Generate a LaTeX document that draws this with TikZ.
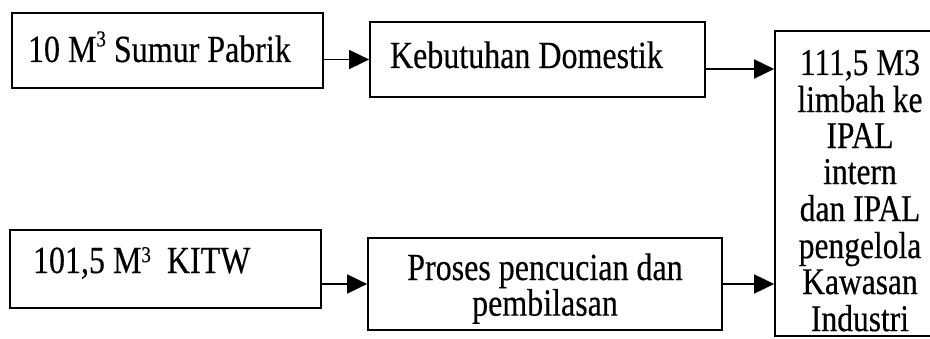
\documentclass[tikz,border=0pt]{standalone}
\usepackage{fontspec}
\setmainfont{Liberation Serif}[FakeBold=0.4]
\usepackage{graphicx}
\usetikzlibrary{arrows.meta}

% text is set a little taller than wide
\newcommand\tallline[1]{\scalebox{1}[1.2]{#1}}
% small raised cube sign
\newcommand\cubed[1]{\raisebox{#1}{\fontsize{19}{19}\selectfont 3}}

\begin{document}
\begin{tikzpicture}[x=1pt,y=1pt,
  box/.style={draw, line width=1.7pt, inner sep=0pt, font=\fontsize{32}{38}\selectfont},
  flow/.style={line width=1.7pt, -{Triangle[length=20pt,width=19pt]}}]
\useasboundingbox (0,0) rectangle (930,338);
\begin{scope}
\clip (0,0) rectangle (930,338);

% sources
\node[box, text height=49pt, text depth=26pt] (b1) at (167.5,287.5)
  {\makebox[311pt][l]{\hspace{16pt}\tallline{10 M\cubed{13pt} Sumur Pabrik}}};
\node[box, text height=43pt, text depth=35pt] (b3) at (165.5,69)
  {\makebox[311pt][l]{\hspace{23pt}\tallline{101,5 M\cubed{9pt}\ \ KITW}}};

% uses
\node[box, text height=46pt, text depth=29pt] (b2) at (537.5,278.5)
  {\makebox[335pt][l]{\hspace{20pt}\tallline{Kebutuhan Domestik}}};
\node[box, text height=42pt, text depth=50pt, font=\fontsize{32}{25}\selectfont] (b4) at (545,54)
  {\makebox[354pt]{\tallline{\begin{tabular}[t]{@{}c@{}}Proses pencucian dan\\pembilasan\end{tabular}}}};

% waste water destination
\node[box, text height=44pt, text depth=261pt, font=\fontsize{31.5}{30}\selectfont] (r) at (860,154.5)
  {\makebox[170pt]{\tallline{\begin{tabular}[t]{@{}c@{}}111,5 M3\\limbah ke\\IPAL\\intern\\dan IPAL\\pengelola\\Kawasan\\Industri\end{tabular}}}};

% connectors
\coordinate (a2) at (0,269);
\draw[flow] (b1.east |- b2.west) -- (b2.west);
\draw[flow] (b2.east |- a2) -- (r.west |- a2);
\draw[flow] (b3.east |- b4.west) -- (b4.west);
\draw[flow] (b4.east) -- (r.west |- b4.east);
\end{scope}
\end{tikzpicture}
\end{document}
